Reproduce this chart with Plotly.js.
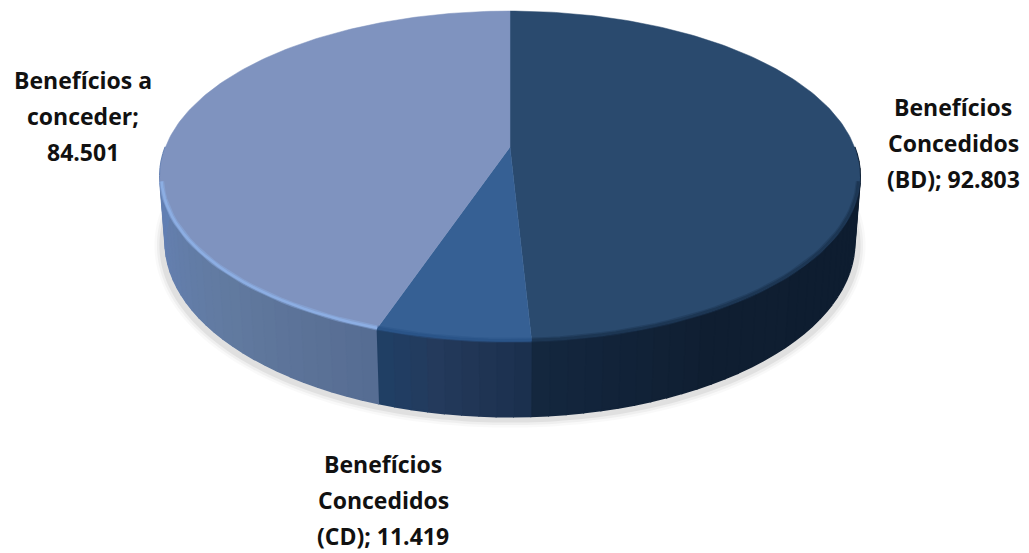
<!DOCTYPE html>
<html><head><meta charset="utf-8">
<script src="https://cdn.plot.ly/plotly-3.0.1.min.js"></script>
<style>html,body{margin:0;padding:0;background:#fff}#c{width:1029px;height:553px}</style>
</head><body><div id="c"></div>
<script>
// Data, clockwise from 12 o'clock
const categories = ["Benefícios Concedidos (BD)", "Benefícios Concedidos (CD)", "Benefícios a conceder"];
const values = [92.803, 11.419, 84.501];
const valueLabels = ["92.803", "11.419", "84.501"];
const labelLines = [
  ["Benefícios", "Concedidos", "(BD); " + valueLabels[0]],
  ["Benefícios", "Concedidos", "(CD); " + valueLabels[1]],
  ["Benefícios a", "conceder;", valueLabels[2]]
];
// Styles
const topColors = ["#2a4a6e", "#366094", "#7f93bf"];
const rimColors = ["#1c3552", "#2a5488", "#8db0e6"];
const wallStops = [
  [[85,"#0d1c2f"],[150,"#0f1e31"],[177,"#14273f"]],
  [[177,"#1a2f4c"],[190,"#243a5c"],[199,"#1f4066"]],
  [[199,"#566c92"],[225,"#617a9f"],[250,"#647fae"],[280,"#5f80b8"]]
];
const labelAnchors = [[953,107],[383,464],[83,80]];
const lineGap = 36;
// Geometry of the perspective view
const cx=510, cy=147, a=344.5, b=160, k=0.1768, depth=65, shrink=0.985;
function proj(deg, drop, scale){
  const t=deg*Math.PI/180, sx=Math.sin(t)*scale, sy=-Math.cos(t)*scale, w=1-k*sy;
  return [cx+a*sx/w, cy+(b*sy+drop)/w];
}
function range(from,to,step){const r=[];const n=Math.max(1,Math.ceil(Math.abs(to-from)/step));for(let i=0;i<=n;i++)r.push(from+(to-from)*i/n);return r;}
function hex(c){return [1,3,5].map(i=>parseInt(c.substr(i,2),16));}
function mix(stops,d){
  if(d<=stops[0][0])return stops[0][1];
  for(let i=1;i<stops.length;i++){
    if(d<=stops[i][0]){
      const f=(d-stops[i-1][0])/(stops[i][0]-stops[i-1][0]),A=hex(stops[i-1][1]),B=hex(stops[i][1]);
      return "rgb("+A.map((v,j)=>Math.round(v+(B[j]-v)*f)).join(",")+")";
    }
  }
  return stops[stops.length-1][1];
}
const total=values.reduce((s,v)=>s+v,0);
const bounds=[0]; values.forEach(v=>bounds.push(bounds[bounds.length-1]+v/total*360));
const traces=[];
function poly(pts,color,name){traces.push({type:"scatter",mode:"lines",x:pts.map(p=>p[0]),y:pts.map(p=>p[1]),fill:"toself",fillcolor:color,line:{width:2,color:color},hoverinfo:"skip",showlegend:false,name:name});}
function line(pts,color,width){traces.push({type:"scatter",mode:"lines",x:pts.map(p=>p[0]),y:pts.map(p=>p[1]),line:{width:width,color:color,shape:"spline"},hoverinfo:"skip",showlegend:false});}
// soft shadow under the disc
const shadowPts=range(90,270,2).map(d=>{const q=proj(d,depth,shrink);return [q[0]+(q[0]>cx?3:-3),q[1]+3];});
[[16,"rgba(0,0,0,0.025)"],[11,"rgba(0,0,0,0.04)"],[6,"rgba(0,0,0,0.06)"]].forEach(s=>line(shadowPts,s[1],s[0]));
// side wall, one band per few degrees
const wallFrom=90,wallTo=270;
values.forEach((v,i)=>{
  const s=Math.max(bounds[i],wallFrom),e=Math.min(bounds[i+1],wallTo);
  if(e<=s)return;
  const steps=range(s,e,2.5);
  for(let j=0;j<steps.length-1;j++){
    const d0=steps[j],d1=steps[j+1];
    poly([proj(d0,0,1),proj(d1,0,1),proj(d1,depth,shrink),proj(d0,depth,shrink)],mix(wallStops[i],(d0+d1)/2),categories[i]);
  }
});
// top face: one sector per value
values.forEach((v,i)=>{
  const pts=[proj(0,0,0)].concat(range(bounds[i],bounds[i+1],1).map(d=>proj(d,0,1)));
  pts.push(pts[0]);
  traces.push({type:"scatter",mode:"lines",x:pts.map(p=>p[0]),y:pts.map(p=>p[1]),fill:"toself",fillcolor:topColors[i],line:{width:0.5,color:topColors[i]},
    name:categories[i],text:categories[i]+"; "+valueLabels[i],hoverinfo:"text",hoveron:"fills",showlegend:false});
});
// bevel along the visible front rim: a wide faint band under a narrow stronger one
const rimFrom=102,rimTo=258;
values.forEach((v,i)=>{
  const s=Math.max(bounds[i],rimFrom),e=Math.min(bounds[i+1],rimTo);
  if(e<=s)return;
  const pts=range(s,e,2).map(d=>proj(d,0,0.996));
  traces.push({type:"scatter",mode:"lines",x:pts.map(p=>p[0]),y:pts.map(p=>p[1]),line:{width:5,color:rimColors[i]},opacity:0.45,hoverinfo:"skip",showlegend:false});
  traces.push({type:"scatter",mode:"lines",x:pts.map(p=>p[0]),y:pts.map(p=>p[1]),line:{width:2.5,color:rimColors[i]},opacity:0.9,hoverinfo:"skip",showlegend:false});
});
const annotations=[];
labelLines.forEach((ls,i)=>ls.forEach((t,j)=>annotations.push({
  x:labelAnchors[i][0],y:labelAnchors[i][1]+j*lineGap,xref:"x",yref:"y",text:t,showarrow:false,
  xanchor:"center",yanchor:"middle",font:{family:"'Open Sans', sans-serif",size:23,color:"#111",weight:700}
})));
const hidden={visible:false,fixedrange:true};
Plotly.newPlot("c",traces,{
  width:1029,height:553,margin:{l:0,r:0,t:0,b:0},paper_bgcolor:"#fff",plot_bgcolor:"#fff",showlegend:false,
  xaxis:Object.assign({range:[0,1029]},hidden),
  yaxis:Object.assign({range:[553,0]},hidden),
  annotations:annotations
},{displayModeBar:false});
</script></body></html>
